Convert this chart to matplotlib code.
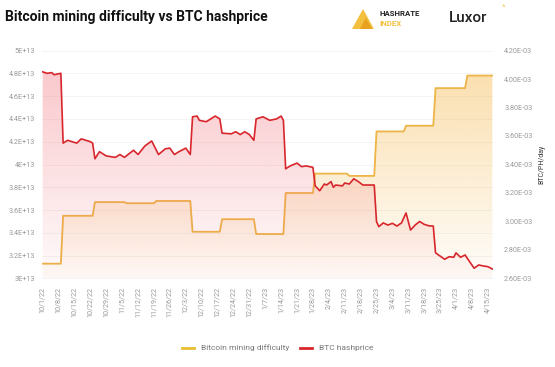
import matplotlib
matplotlib.use('Agg')
import matplotlib.pyplot as plt
import matplotlib.dates as mdates
import matplotlib.colors as mcolors
from matplotlib.lines import Line2D
from matplotlib.patches import Polygon
import numpy as np
import pandas as pd

plt.rcParams['font.family'] = ['Roboto', 'DejaVu Sans']

# ---------------- data ----------------
tick_labels = ['10/1/22', '10/8/22', '10/15/22', '10/22/22', '10/29/22', '11/5/22',
               '11/12/22', '11/19/22', '11/26/22', '12/3/22', '12/10/22', '12/17/22',
               '12/24/22', '12/31/22', '1/7/23', '1/14/23', '1/21/23', '1/28/23',
               '2/4/23', '2/11/23', '2/18/23', '2/25/23', '3/4/23', '3/11/23',
               '3/18/23', '3/25/23', '4/1/23', '4/8/23', '4/15/23']

left_ticks = [3.0e13, 3.2e13, 3.4e13, 3.6e13, 3.8e13, 4.0e13, 4.2e13, 4.4e13, 4.6e13, 4.8e13, 5.0e13]
left_labels = ['3E+13', '3.2E+13', '3.4E+13', '3.6E+13', '3.8E+13', '4E+13',
               '4.2E+13', '4.4E+13', '4.6E+13', '4.8E+13', '5E+13']
right_ticks = [2.6, 2.8, 3.0, 3.2, 3.4, 3.6, 3.8, 4.0, 4.2]  # x 1e-3
right_labels = ['2.60E-03', '2.80E-03', '3.00E-03', '3.20E-03', '3.40E-03',
                '3.60E-03', '3.80E-03', '4.00E-03', '4.20E-03']

# mining difficulty: adjustment dates and new values
diff_dates = ['2022-10-01', '2022-10-10', '2022-10-24', '2022-11-07', '2022-11-20',
              '2022-12-06', '2022-12-19', '2023-01-03', '2023-01-16', '2023-01-29',
              '2023-02-13', '2023-02-25', '2023-03-10', '2023-03-23', '2023-04-06']
diff_values = [3.13e13, 3.55e13, 3.67e13, 3.66e13, 3.68e13,
               3.41e13, 3.52e13, 3.39e13, 3.75e13, 3.92e13,
               3.90e13, 4.29e13, 4.34e13, 4.67e13, 4.78e13]
diff_end = '2023-04-17'

# BTC hashprice (x 1e-3 BTC/PH/day)
hp_dates = ['2022-10-01', '2022-10-03', '2022-10-05', '2022-10-06', '2022-10-09', '2022-10-10',
            '2022-10-12', '2022-10-16', '2022-10-18', '2022-10-22', '2022-10-23', '2022-10-24',
            '2022-10-26', '2022-10-29', '2022-11-02', '2022-11-04', '2022-11-06', '2022-11-10',
            '2022-11-12', '2022-11-15', '2022-11-18', '2022-11-21', '2022-11-24', '2022-11-26',
            '2022-11-28', '2022-11-30', '2022-12-03', '2022-12-05', '2022-12-06', '2022-12-08',
            '2022-12-09', '2022-12-12', '2022-12-14', '2022-12-16', '2022-12-18', '2022-12-19',
            '2022-12-23', '2022-12-25', '2022-12-27', '2022-12-29', '2022-12-31', '2023-01-02',
            '2023-01-03', '2023-01-06', '2023-01-09', '2023-01-12', '2023-01-14', '2023-01-15',
            '2023-01-16', '2023-01-18', '2023-01-21', '2023-01-23', '2023-01-25', '2023-01-28',
            '2023-01-29', '2023-01-31', '2023-02-02', '2023-02-03', '2023-02-05', '2023-02-06',
            '2023-02-07', '2023-02-10', '2023-02-11', '2023-02-13', '2023-02-15', '2023-02-17',
            '2023-02-19', '2023-02-24', '2023-02-25', '2023-02-26', '2023-02-28', '2023-03-02',
            '2023-03-04', '2023-03-06', '2023-03-08', '2023-03-10', '2023-03-12', '2023-03-14',
            '2023-03-16', '2023-03-18', '2023-03-20', '2023-03-22', '2023-03-23', '2023-03-27',
            '2023-03-29', '2023-03-31', '2023-04-01', '2023-04-03', '2023-04-05', '2023-04-07',
            '2023-04-09', '2023-04-11', '2023-04-13', '2023-04-15', '2023-04-17']
hp_values = [4.05, 4.04, 4.045, 4.03, 4.04, 3.55,
             3.57, 3.55, 3.58, 3.56, 3.55, 3.44,
             3.49, 3.46, 3.45, 3.47, 3.45, 3.50,
             3.47, 3.53, 3.565, 3.47, 3.51, 3.515,
             3.47, 3.49, 3.515, 3.47, 3.735, 3.74,
             3.71, 3.70, 3.72, 3.74, 3.72, 3.62,
             3.615, 3.63, 3.61, 3.63, 3.61, 3.57,
             3.72, 3.735, 3.71, 3.72, 3.74, 3.71,
             3.37, 3.39, 3.41, 3.385, 3.39, 3.38,
             3.25, 3.216, 3.263, 3.256, 3.28, 3.24,
             3.256, 3.25, 3.27, 3.263, 3.30, 3.28,
             3.256, 3.256, 3.0, 2.964, 2.99, 2.975,
             2.987, 2.968, 2.99, 3.06, 2.94, 2.975,
             3.0, 2.98, 2.97, 2.968, 2.78, 2.735,
             2.753, 2.749, 2.78, 2.749, 2.765, 2.718,
             2.672, 2.695, 2.688, 2.683, 2.667]

# ---------------- colours ----------------
RED = '#D8262C'
ORANGE = '#EDB446'
GREY = '#9a9a9a'

# ---------------- build series ----------------
dd = pd.to_datetime(diff_dates)
dend = pd.to_datetime(diff_end)
dx, dy = [], []
for i, (d, v) in enumerate(zip(dd, diff_values)):
    nxt = dd[i + 1] - pd.Timedelta(days=1) if i + 1 < len(dd) else dend
    dx += [d, nxt]
    dy += [v, v]
dxn = mdates.date2num(dx)
dy = np.array(dy)

hx = mdates.date2num(pd.to_datetime(hp_dates))
hy = np.array(hp_values)

tick_pos = mdates.date2num(pd.to_datetime(tick_labels, format='%m/%d/%y'))

# ---------------- figure ----------------
fig = plt.figure(figsize=(5.55, 3.67), dpi=100)
ax = fig.add_axes([42 / 555, 1 - 278.5 / 367, (493 - 42) / 555, (278.5 - 50.5) / 367])
ax2 = ax.twinx()

xmin = mdates.date2num(pd.Timestamp('2022-10-01')) - 0.3
xmax = mdates.date2num(pd.Timestamp('2023-04-17')) + 0.3
L0, L1 = 3.0e13, 5.0e13
R0, R1 = 2.6, 4.2


def gradient_fill(a, x, y, base, top, color, a_top, a_bot, z):
    poly = a.fill_between(x, y, base, facecolor='none', edgecolor='none')
    rgb = mcolors.to_rgb(color)
    img = np.zeros((256, 1, 4))
    img[:, :, :3] = rgb
    img[:, 0, 3] = np.linspace(a_top, a_bot, 256)
    im = a.imshow(img, extent=[xmin, xmax, base, top], aspect='auto',
                  origin='upper', zorder=z, interpolation='bilinear')
    im.set_clip_path(poly.get_paths()[0], transform=a.transData)


gradient_fill(ax, dxn, dy, L0, L1, '#F5B13C', 0.45, 0.03, 1)
ax.plot(dxn, dy, color=ORANGE, lw=1.3, zorder=3, solid_joinstyle='round')

gradient_fill(ax2, hx, hy, R0, R1, '#F26A74', 0.40, 0.03, 1)
ax2.plot(hx, hy, color=RED, lw=1.2, zorder=3, solid_joinstyle='round')

ax.set_xlim(xmin, xmax)
ax.set_ylim(L0, L1)
ax2.set_ylim(R0, R1)

ax.set_yticks(left_ticks)
ax.set_yticklabels(left_labels)
ax2.set_yticks(right_ticks)
ax2.set_yticklabels(right_labels)
ax.set_xticks(tick_pos)
ax.set_xticklabels(tick_labels, rotation=90)

for a in (ax, ax2):
    for s in a.spines.values():
        s.set_visible(False)
    a.tick_params(length=0, labelsize=5.2, labelcolor=GREY)
ax.tick_params(axis='y', pad=5)
ax2.tick_params(axis='y', pad=8)
ax.tick_params(axis='x', pad=6)
ax.grid(axis='y', color='#f2f2f2', lw=0.6)
ax.set_axisbelow(True)

ax2.set_ylabel('BTC/PH/day', fontsize=5, color='#333333', labelpad=4)

# ---------------- title & logos ----------------
fig.text(5 / 555, 1 - 17 / 367, 'Bitcoin mining difficulty vs BTC hashprice',
         fontsize=10, fontweight='bold', color='#111111', va='center', ha='left')

tri = Polygon([[352 / 555, 1 - 29 / 367], [363 / 555, 1 - 9 / 367], [374 / 555, 1 - 29 / 367]],
              closed=True, transform=fig.transFigure, facecolor='#F2C03E', edgecolor='none')
fig.patches.append(tri)
tri2 = Polygon([[360 / 555, 1 - 29 / 367], [366 / 555, 1 - 18 / 367], [372 / 555, 1 - 29 / 367]],
               closed=True, transform=fig.transFigure, facecolor='#E8A21F', edgecolor='none')
fig.patches.append(tri2)
fig.text(379 / 555, 1 - 13.5 / 367, 'HASHRATE', fontsize=5.6, fontweight='bold',
         color='#222222', va='center', ha='left')
fig.text(379 / 555, 1 - 24 / 367, 'INDEX', fontsize=5.6, fontweight='bold',
         color='#F2C03E', va='center', ha='left')
fig.text(449 / 555, 1 - 18 / 367, 'Luxor', fontsize=11, fontweight='medium',
         color='#222222', va='center', ha='left')
fig.text(503 / 555, 1 - 8 / 367, '^', fontsize=6, color='#F2C03E', va='center', ha='center')

# ---------------- legend ----------------
handles = [Line2D([0], [0], color='#E8C030', lw=2),
           Line2D([0], [0], color=RED, lw=2)]
fig.legend(handles, ['Bitcoin mining difficulty', 'BTC hashprice'],
           loc='center', bbox_to_anchor=(0.5, 1 - 348 / 367), ncol=2, frameon=False,
           fontsize=6, labelcolor='#777777', handlelength=1.5, columnspacing=1.2)

fig.savefig('out.png', dpi=100)
